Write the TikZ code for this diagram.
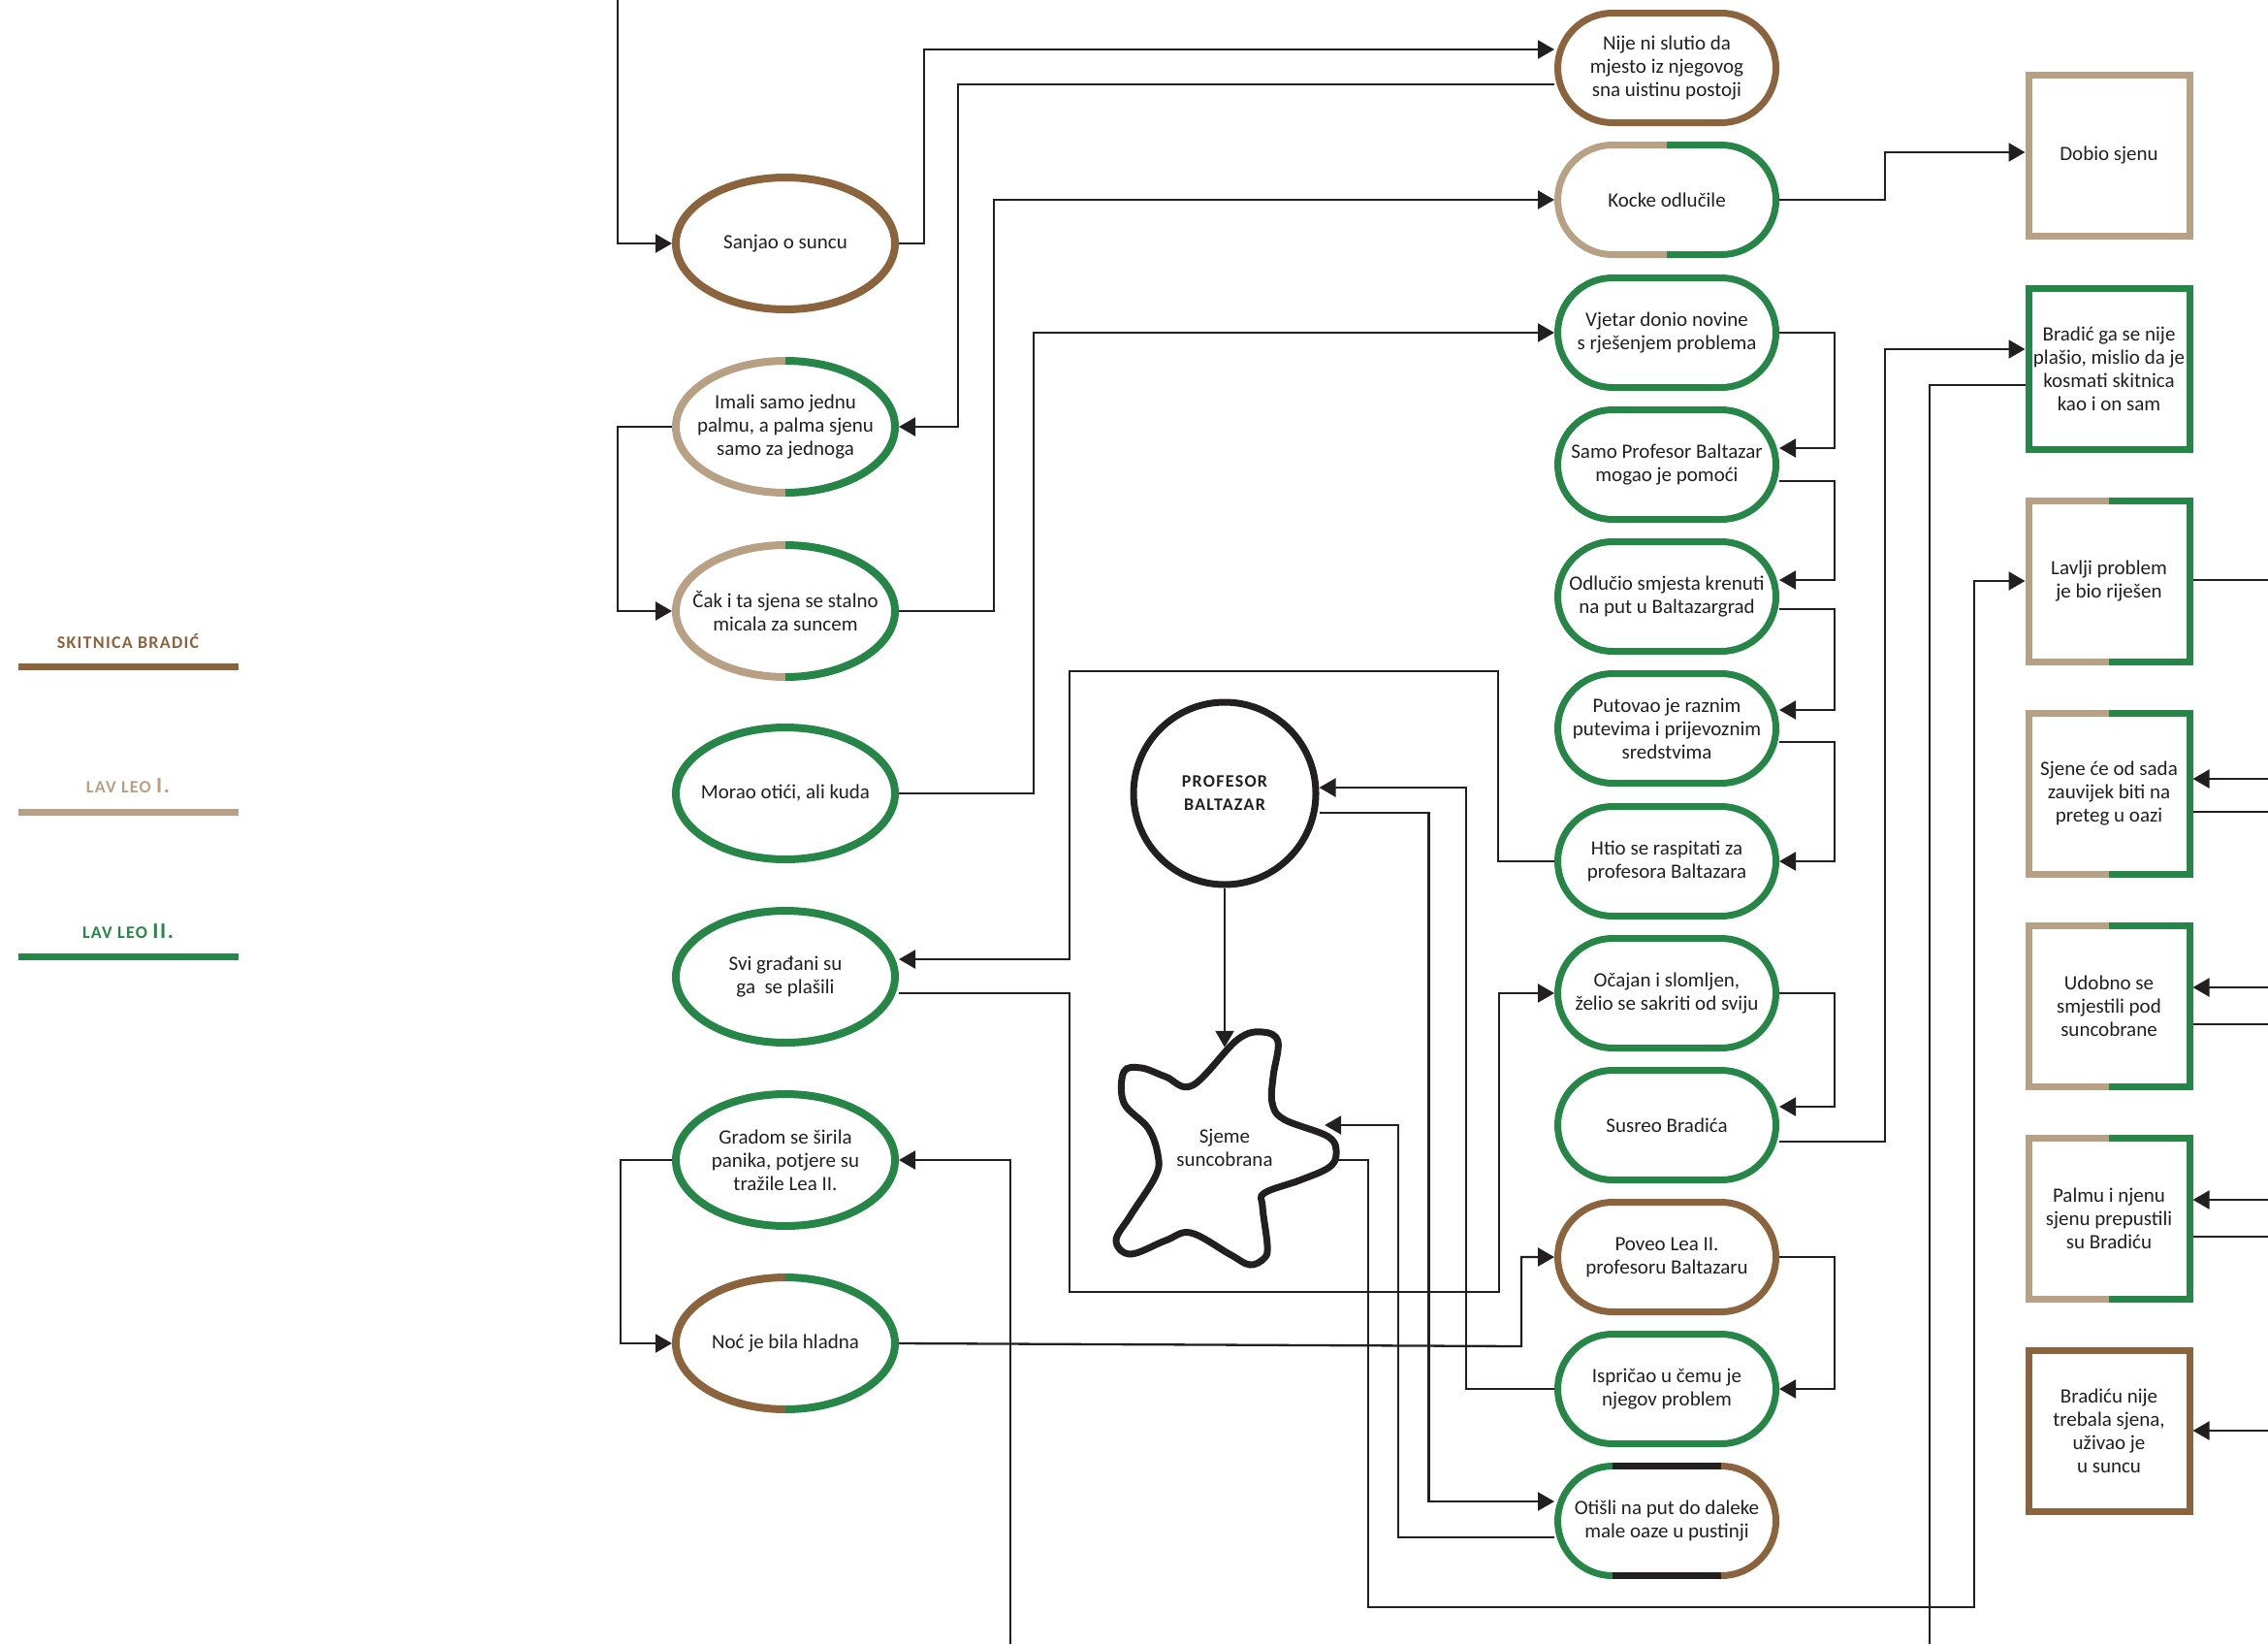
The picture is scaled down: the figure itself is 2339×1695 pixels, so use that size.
\documentclass[tikz,border=0pt]{standalone}
\usepackage{fontspec}
\setmainfont{Carlito}
\newfontfamily\tagfamily[LetterSpace=7]{Carlito Bold}
\usetikzlibrary{shapes,arrows.meta}

\definecolor{skitnica}{RGB}{139,99,60}
\definecolor{leoone}{RGB}{184,160,133}
\definecolor{leotwo}{RGB}{38,134,72}
\definecolor{ink}{RGB}{34,31,32}

\newcommand{\storyfont}{\fontsize{21pt}{24pt}\selectfont}
\newcommand{\tagfont}{\tagfamily\fontsize{18pt}{24pt}\selectfont}

\tikzset{
  oval/.style={ellipse, minimum width=226pt, minimum height=136pt, inner xsep=-40pt, inner ysep=-10pt, outer sep=4pt, line width=8pt, align=center, text=ink, font=\storyfont},
  pill/.style={rectangle, rounded corners=56.5pt, minimum width=225pt, minimum height=113pt, inner sep=0pt, outer sep=3.5pt, line width=7pt, align=center, text=ink, font=\storyfont},
  sq/.style={rectangle, minimum width=166pt, minimum height=166pt, inner sep=0pt, outer sep=3.5pt, line width=7pt, align=center, text=ink, font=\storyfont},
  tag/.style={inner sep=0pt, align=center, font=\tagfont},
  link/.style={draw=ink, line width=2.3pt},
  arr/.style={link, -{Triangle[length=17pt,width=19pt]}},
}

% two-coloured borders: node, left colour, right colour
\newcommand{\splitoval}[3]{
  \draw[line width=8pt, #2] ([yshift=68pt]#1.center) arc[start angle=90, end angle=270, x radius=113pt, y radius=68pt];
  \draw[line width=8pt, #3] ([yshift=68pt]#1.center) arc[start angle=90, end angle=-90, x radius=113pt, y radius=68pt];
}
\newcommand{\splitpill}[3]{
  \draw[line width=7pt, #2] ([yshift=56.5pt]#1.center) -- ++(-56pt,0) arc[start angle=90, end angle=270, radius=56.5pt] -- ++(56pt,0);
  \draw[line width=7pt, #3] ([yshift=56.5pt]#1.center) -- ++(56pt,0) arc[start angle=90, end angle=-90, radius=56.5pt] -- ++(-56pt,0);
}
\newcommand{\splitsq}[3]{
  \draw[line width=7pt, #2] ([yshift=83pt]#1.center) -- ++(-83pt,0) -- ++(0,-166pt) -- ++(83pt,0);
  \draw[line width=7pt, #3] ([yshift=83pt]#1.center) -- ++(83pt,0) -- ++(0,-166pt) -- ++(-83pt,0);
}

\begin{document}
\begin{tikzpicture}[x=1pt, y=-1pt]
  % Page
  \path[use as bounding box, fill=white] (0,0) rectangle (2339,1695);

  % Legend
  \node[tag, text=skitnica] (lgbrad) at (132,661) {SKITNICA BRADIĆ};
  \draw[skitnica, line width=7pt] (19,687) -- (246,687);
  \node[tag, text=leoone] (lgleoone) at (132,810) {LAV LEO {\fontsize{23pt}{24pt}\selectfont I.}};
  \draw[leoone, line width=7pt] (19,837) -- (246,837);
  \node[tag, text=leotwo] (lgleotwo) at (132,960) {LAV LEO {\fontsize{23pt}{24pt}\selectfont II.}};
  \draw[leotwo, line width=7pt] (19,986) -- (246,986);

  % Left column
  \node[oval, draw=skitnica] (sanjao) at (810,251) {Sanjao o suncu};
  \node[oval] (imali) at (810,440) {Imali samo jednu\\palmu, a palma sjenu\\samo za jednoga};
  \node[oval] (cak) at (810,630) {Čak i ta sjena se stalno\\micala za suncem};
  \node[oval, draw=leotwo] (morao) at (810,818) {Morao otići, ali kuda};
  \node[oval, draw=leotwo] (svi) at (810,1007) {Svi građani su\\ga~ se plašili};
  \node[oval, draw=leotwo] (gradom) at (810,1196) {Gradom se širila\\panika, potjere su\\tražile Lea II.};
  \node[oval] (noc) at (810,1385) {Noć je bila hladna};
  \splitoval{imali}{leoone}{leotwo}
  \splitoval{cak}{leoone}{leotwo}
  \splitoval{noc}{skitnica}{leotwo}

  % Middle: professor and the seed
  \node[circle, minimum size=188pt, inner sep=0pt, outer sep=3.5pt, line width=7pt, draw=ink, align=center, font=\tagfont, text=ink] (prof) at (1263,818) {PROFESOR\\BALTAZAR};
  \node[rectangle, minimum width=206pt, minimum height=206pt, inner sep=0pt, align=center, font=\storyfont, text=ink] (seme) at (1263,1183) {Sjeme\\suncobrana};
  \draw[ink, line width=7pt] plot[smooth cycle, tension=0.6] coordinates {
    (1230,1119) (1276,1072) (1302,1064) (1318,1074) (1313,1110) (1312,1137) (1324,1154)
    (1370,1172) (1378,1190) (1370,1204) (1340,1217) (1304,1230) (1302,1244) (1307,1284)
    (1304,1297) (1289,1304) (1268,1293) (1228,1271) (1202,1279) (1166,1293) (1151,1279)
    (1166,1253) (1192,1212) (1194,1190) (1184,1163) (1159,1137) (1159,1105) (1177,1101)
    (1202,1110)};

  % Story column
  \node[pill, draw=skitnica] (nije) at (1719,70) {Nije ni slutio da\\mjesto iz njegovog\\sna uistinu postoji};
  \node[pill] (kocke) at (1719,206) {Kocke odlučile};
  \node[pill, draw=leotwo] (vjetar) at (1719,343) {Vjetar donio novine\\s rješenjem problema};
  \node[pill, draw=leotwo] (samo) at (1719,479) {Samo Profesor Baltazar\\mogao je pomoći};
  \node[pill, draw=leotwo] (odlucio) at (1719,615) {Odlučio smjesta krenuti\\na put u Baltazargrad};
  \node[pill, draw=leotwo] (putovao) at (1719,751) {Putovao je raznim\\putevima i prijevoznim\\sredstvima};
  \node[pill, draw=leotwo] (htio) at (1719,888) {Htio se raspitati za\\profesora Baltazara};
  \node[pill, draw=leotwo] (ocajan) at (1719,1024) {Očajan i slomljen,\\želio se sakriti od sviju};
  \node[pill, draw=leotwo] (susreo) at (1719,1160) {Susreo Bradića};
  \node[pill, draw=skitnica] (poveo) at (1719,1296) {Poveo Lea II.\\profesoru Baltazaru};
  \node[pill, draw=leotwo] (ispricao) at (1719,1432) {Ispričao u čemu je\\njegov problem};
  \node[pill] (otisli) at (1719,1568) {Otišli na put do daleke\\male oaze u pustinji};
  \splitpill{kocke}{leoone}{leotwo}
  \draw[line width=7pt, leotwo] ([xshift=-56pt,yshift=56.5pt]otisli.center) arc[start angle=90, end angle=270, radius=56.5pt];
  \draw[line width=7pt, ink] ([xshift=-56pt,yshift=56.5pt]otisli.center) -- ++(112pt,0);
  \draw[line width=7pt, ink] ([xshift=-56pt,yshift=-56.5pt]otisli.center) -- ++(112pt,0);
  \draw[line width=7pt, skitnica] ([xshift=56pt,yshift=56.5pt]otisli.center) arc[start angle=90, end angle=-90, radius=56.5pt];

  % Endings
  \node[sq, draw=leoone] (dobio) at (2175,160) {Dobio sjenu};
  \node[sq, draw=leotwo] (bradicga) at (2175,380) {Bradić ga se nije\\plašio, mislio da je\\kosmati skitnica\\kao i on sam};
  \node[sq] (lavlji) at (2175,599) {Lavlji problem\\je bio riješen};
  \node[sq] (sjene) at (2175,818) {Sjene će od sada\\zauvijek biti na\\preteg u oazi};
  \node[sq] (udobno) at (2175,1037) {Udobno se\\smjestili pod\\suncobrane};
  \node[sq] (palmu) at (2175,1256) {Palmu i njenu\\sjenu prepustili\\su Bradiću};
  \node[sq, draw=skitnica] (bradicu) at (2175,1475) {Bradiću nije\\trebala sjena,\\uživao je\\u suncu};
  \splitsq{lavlji}{leoone}{leotwo}
  \splitsq{sjene}{leoone}{leotwo}
  \splitsq{udobno}{leoone}{leotwo}
  \splitsq{palmu}{leoone}{leotwo}

  % Loose ends at the page edges
  \coordinate (topin) at (637,0);
  \coordinate (botbrad) at (1990,1695);
  \coordinate (botgrad) at (1042,1695);
  \coordinate (outlav) at (2339,598);
  \coordinate (insje) at (2339,803);
  \coordinate (outsje) at (2339,837);
  \coordinate (inudo) at (2339,1018);
  \coordinate (outudo) at (2339,1056);
  \coordinate (inpal) at (2339,1237);
  \coordinate (outpal) at (2339,1275);
  \coordinate (inbra) at (2339,1475);

  % Connectors, left part
  \draw[arr] (topin) |- (sanjao.west);
  \draw[arr] (sanjao.east) -| (953,51) -- (953,51 -| nije.west);
  \draw[arr] ([yshift=-17pt]nije.west) -| (988,440) -- (imali.east);
  \draw[arr] (imali.west) -- ++(-56,0) |- (cak.west);
  \draw[arr] (cak.east) -- ++(98,0) |- (kocke.west);
  \draw[arr] (morao.east) -- ++(139,0) |- (vjetar.west);
  \draw[arr] (botgrad) |- (gradom.east);
  \draw[arr] (gradom.west) -- ++(-53,0) |- (noc.west);
  \draw[arr] (noc.east) -- (1569,1388) |- (poveo.west);

  % Connectors, story column
  \draw[arr] (kocke.east) -- ++(109,0) |- ([yshift=3pt]dobio.west);
  \draw[arr] (vjetar.east) -- ++(57,0) |- ([yshift=17pt]samo.east);
  \draw[arr] ([yshift=-17pt]samo.east) -- ++(57,0) |- ([yshift=17pt]odlucio.east);
  \draw[arr] ([yshift=-13pt]odlucio.east) -- ++(57,0) |- ([yshift=19pt]putovao.east);
  \draw[arr] ([yshift=-14pt]putovao.east) -- ++(57,0) |- (htio.east);
  \draw[arr] (htio.west) -- ++(-58,0) |- (1103,692) |- ([yshift=18pt]svi.east);
  \draw[arr] ([yshift=-17pt]svi.east) -| (1103,1332) -| ([xshift=-57pt]ocajan.west) -- (ocajan.west);
  \draw[arr] (ocajan.east) -- ++(57,0) |- ([yshift=19pt]susreo.east);
  \draw[arr] ([yshift=-17pt]susreo.east) -- ++(109,0) |- ([yshift=20pt]bradicga.west);
  \draw[link] ([yshift=-17pt]bradicga.west) -| (botbrad);
  \draw[arr] (poveo.east) -- ++(57,0) |- (ispricao.east);

  % Connectors round the professor and the seed
  \draw[arr] (prof.south) -- (seme.north);
  \draw[arr] (ispricao.west) -- ++(-91,0) |- ([yshift=6pt]prof.east);
  \draw[arr] ([yshift=-20pt]prof.east) -- ++(113,0) |- ([yshift=20pt]otisli.west);
  \draw[arr] ([yshift=-17pt]otisli.west) -- ++(-161,0) |- ([yshift=23pt]seme.east);
  \draw[arr] ([xshift=14pt,yshift=-13pt]seme.east) -- ++(31,0) |- (2036,1657) |- (lavlji.west);

  % Connectors at the right edge
  \draw[link] (outlav -| lavlji.east) -- (outlav);
  \draw[arr] (insje) -- (insje -| sjene.east);
  \draw[link] (outsje -| sjene.east) -- (outsje);
  \draw[arr] (inudo) -- (inudo -| udobno.east);
  \draw[link] (outudo -| udobno.east) -- (outudo);
  \draw[arr] (inpal) -- (inpal -| palmu.east);
  \draw[link] (outpal -| palmu.east) -- (outpal);
  \draw[arr] (inbra) -- (inbra -| bradicu.east);
\end{tikzpicture}
\end{document}
